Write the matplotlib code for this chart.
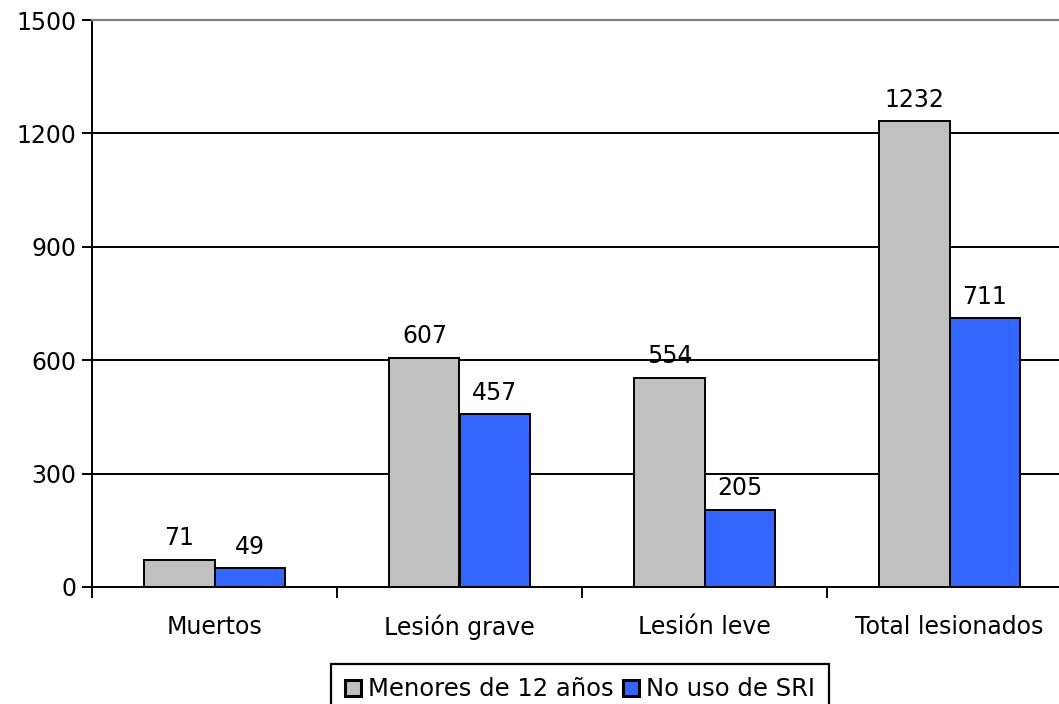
import matplotlib.pyplot as plt
import numpy as np

categorias = ["Muertos", "Lesión grave", "Lesión leve", "Total lesionados"]
menores_12 = [71, 607, 554, 1232]
no_uso_sri = [49, 457, 205, 711]
series_labels = ["Menores de 12 años", "No uso de SRI"]
yticks = [0, 300, 600, 900, 1200, 1500]

plt.rcParams['font.family'] = ['DejaVu Sans']
fs = 17

fig = plt.figure(figsize=(10.59, 7.04), dpi=100)
# plot area runs past the right edge of the figure
ax = fig.add_axes([92 / 1059, 117 / 704, 980 / 1059, 567 / 704])

x = np.arange(len(categorias))
w = 0.286
b1 = ax.bar(x - w / 2, menores_12, w, color="#C0C0C0", edgecolor="black",
            linewidth=1.4, label=series_labels[0], zorder=3)
b2 = ax.bar(x + w / 2, no_uso_sri, w, color="#3366FF", edgecolor="black",
            linewidth=1.4, label=series_labels[1], zorder=3)

for bars, vals in [(b1, menores_12), (b2, no_uso_sri)]:
    for r, v in zip(bars, vals):
        ax.annotate(str(v), (r.get_x() + r.get_width() / 2, v),
                    xytext=(0, 7), textcoords="offset points",
                    ha="center", va="bottom", fontsize=fs)

ax.set_xlim(-0.5, len(categorias) - 0.5)
ax.set_ylim(0, 1500)
ax.set_yticks(yticks)
ax.tick_params(axis="y", labelsize=fs, length=7, width=1.4, direction="out", pad=4)
for y in yticks[1:-1]:
    ax.axhline(y, color="black", lw=1.4, zorder=1)

ax.set_xticks(x)
ax.set_xticklabels(categorias, fontsize=fs)
ax.tick_params(axis="x", length=0, pad=20)
ax.set_xticks(np.arange(-0.5, len(categorias) + 0.5), minor=True)
ax.tick_params(axis="x", which="minor", length=8, width=1.4, direction="out")

for s in ["right", "bottom", "left"]:
    ax.spines[s].set_visible(s != "right")
    ax.spines[s].set_linewidth(1.4)
    ax.spines[s].set_color("black")
ax.spines["top"].set_color("#808080")
ax.spines["top"].set_linewidth(1.6)

leg = fig.legend(loc="upper center", bbox_to_anchor=(580 / 1059, 1 - 664 / 704), ncol=2,
                 fontsize=17.5, frameon=True, fancybox=False, edgecolor="black",
                 framealpha=1, handlelength=0.65, handleheight=0.65, handletextpad=0.3,
                 columnspacing=0.4, borderpad=0.55, borderaxespad=0)
leg.get_frame().set_linewidth(1.6)
for h in leg.legend_handles:
    h.set_linewidth(2.2)

fig.savefig("out.png", dpi=100)
